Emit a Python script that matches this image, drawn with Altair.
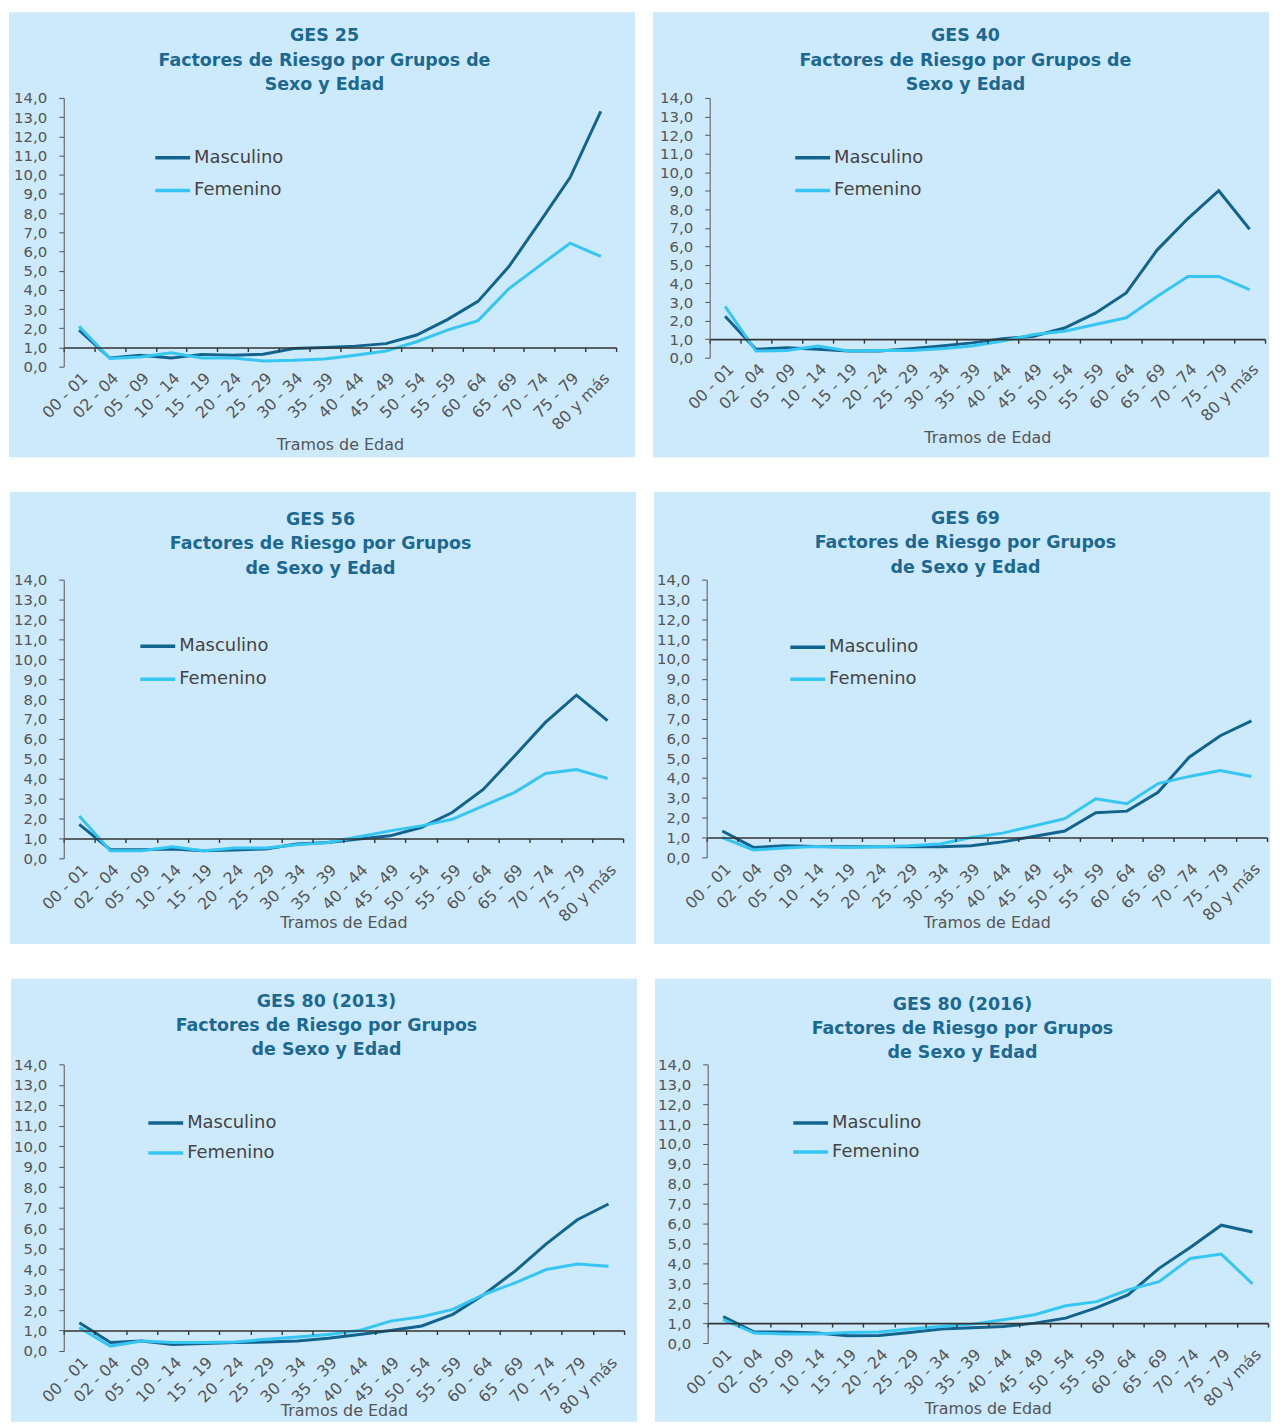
import altair as alt
import pandas as pd

# ---------------- data ----------------
tramos = ["00 - 01", "02 - 04", "05 - 09", "10 - 14", "15 - 19", "20 - 24",
          "25 - 29", "30 - 34", "35 - 39", "40 - 44", "45 - 49", "50 - 54",
          "55 - 59", "60 - 64", "65 - 69", "70 - 74", "75 - 79", "80 y más"]
sexos = ["Masculino", "Femenino"]

titulos = [
    ["GES 25", "Factores de Riesgo por Grupos de", "Sexo y Edad"],
    ["GES 40", "Factores de Riesgo por Grupos de", "Sexo y Edad"],
    ["GES 56", "Factores de Riesgo por Grupos", "de Sexo y Edad"],
    ["GES 69", "Factores de Riesgo por Grupos", "de Sexo y Edad"],
    ["GES 80 (2013)", "Factores de Riesgo por Grupos", "de Sexo y Edad"],
    ["GES 80 (2016)", "Factores de Riesgo por Grupos", "de Sexo y Edad"],
]

ges25_masc = [1.9, 0.45, 0.6, 0.45, 0.64, 0.6, 0.65, 0.95, 1.0, 1.07, 1.2, 1.65, 2.45, 3.4, 5.2, 7.5, 9.85, 13.3]
ges25_fem = [2.1, 0.43, 0.5, 0.72, 0.45, 0.45, 0.3, 0.33, 0.4, 0.6, 0.82, 1.3, 1.9, 2.4, 4.05, 5.25, 6.43, 5.74]

ges40_masc = [2.24, 0.45, 0.54, 0.45, 0.36, 0.36, 0.48, 0.63, 0.8, 1.02, 1.16, 1.6, 2.4, 3.49, 5.8, 7.5, 9.0, 6.92]
ges40_fem = [2.77, 0.36, 0.39, 0.63, 0.36, 0.39, 0.39, 0.48, 0.63, 0.9, 1.25, 1.43, 1.79, 2.15, 3.3, 4.38, 4.38, 3.67]

ges56_masc = [1.71, 0.43, 0.43, 0.47, 0.38, 0.42, 0.47, 0.72, 0.8, 0.97, 1.13, 1.55, 2.3, 3.46, 5.13, 6.83, 8.2, 6.92]
ges56_fem = [2.13, 0.38, 0.38, 0.58, 0.38, 0.52, 0.52, 0.68, 0.8, 1.08, 1.38, 1.63, 1.96, 2.63, 3.3, 4.26, 4.46, 4.01]

ges69_masc = [1.33, 0.5, 0.58, 0.55, 0.53, 0.53, 0.53, 0.53, 0.58, 0.78, 1.05, 1.33, 2.25, 2.33, 3.28, 5.05, 6.13, 6.88]
ges69_fem = [1.0, 0.37, 0.47, 0.55, 0.5, 0.53, 0.58, 0.67, 1.0, 1.22, 1.58, 1.95, 2.95, 2.7, 3.72, 4.08, 4.38, 4.08]

ges80_13_masc = [1.38, 0.41, 0.49, 0.32, 0.36, 0.41, 0.44, 0.49, 0.62, 0.81, 1.0, 1.22, 1.79, 2.76, 3.9, 5.23, 6.41, 7.18]
ges80_13_fem = [1.14, 0.24, 0.49, 0.41, 0.41, 0.44, 0.57, 0.68, 0.81, 1.0, 1.46, 1.67, 2.03, 2.76, 3.33, 3.98, 4.25, 4.14]

ges80_16_masc = [1.33, 0.55, 0.55, 0.5, 0.37, 0.38, 0.53, 0.7, 0.77, 0.83, 1.0, 1.25, 1.78, 2.42, 3.75, 4.8, 5.92, 5.58]
ges80_16_fem = [1.17, 0.5, 0.45, 0.45, 0.53, 0.55, 0.7, 0.83, 0.95, 1.17, 1.42, 1.87, 2.08, 2.67, 3.08, 4.25, 4.47, 2.97]

series = [
    (ges25_masc, ges25_fem),
    (ges40_masc, ges40_fem),
    (ges56_masc, ges56_fem),
    (ges69_masc, ges69_fem),
    (ges80_13_masc, ges80_13_fem),
    (ges80_16_masc, ges80_16_fem),
]

# ---------------- styling / layout ----------------
BG = "#cdeafc"
DARK = "#12648f"
LIGHT = "#36c6f4"
TITLE_COLOR = "#1c6892"
TEXT = "#555555"
FONT = "DejaVu Sans"

layouts = [
    dict(W=555, H=270, L=55, R=19, T=86, B=91, tdx=262, tdy=-62, lx=90, ly=58, rs=32, xt=78),
    dict(W=558, H=261, L=57, R=4, T=86, B=100, tdx=257, tdy=-62, lx=84, ly=58, rs=32, xt=80),
    dict(W=562, H=280, L=54, R=13, T=88, B=86, tdx=258, tdy=-60, lx=75, ly=65, rs=32, xt=65),
    dict(W=563, H=279, L=53, R=3, T=88, B=87, tdx=260, tdy=-61, lx=82, ly=66, rs=31, xt=66),
    dict(W=563, H=288, L=53, R=13, T=86, B=71, tdx=264, tdy=-63, lx=83, ly=57, rs=29, xt=60),
    dict(W=563, H=280, L=53, R=3, T=86, B=79, tdx=256, tdy=-60, lx=84, ly=57, rs=28, xt=66),
]

SYM = 35  # legend line length


def panel(title_lines, masc, fem, lay):
    W, H = lay["W"], lay["H"]
    unit = H / 14.0
    df = pd.DataFrame({
        "Tramo": tramos * 2,
        "Sexo": [sexos[0]] * len(tramos) + [sexos[1]] * len(tramos),
        "Valor": list(masc) + list(fem),
    })
    one = pd.DataFrame({"k": [0]})

    bg = alt.Chart(one).mark_rect(color=BG).encode(
        x=alt.value(-lay["L"]), x2=alt.value(W + lay["R"]),
        y=alt.value(-lay["T"]), y2=alt.value(H + lay["B"]),
    )

    lines = alt.Chart(df).mark_line(strokeWidth=3).encode(
        x=alt.X(
            "Tramo:N", sort=tramos,
            scale=alt.Scale(type="band", paddingInner=0, paddingOuter=0),
            axis=alt.Axis(
                title="Tramos de Edad", offset=-unit, tickBand="extent",
                labelAngle=-45, tickSize=4, labelPadding=unit - 1,
                domainColor="#333333", tickColor="#333333",
                domainWidth=1.6, tickWidth=1.4, zindex=1,
                labelFontSize=16, labelColor=TEXT, labelFont=FONT,
                titleFontSize=16, titleFontWeight="normal", titleColor=TEXT,
                titleFont=FONT, titleY=lay["xt"] + unit, titleBaseline="middle",
            ),
        ),
        y=alt.Y(
            "Valor:Q", scale=alt.Scale(domain=[0, 14]),
            axis=alt.Axis(
                title=None, values=list(range(15)), grid=False, zindex=1,
                labelExpr="replace(format(datum.value, '.1f'), '.', ',')",
                domainColor="#555555", tickColor="#555555", tickSize=5,
                labelPadding=12, labelFontSize=15, labelColor=TEXT, labelFont=FONT,
            ),
        ),
        color=alt.Color(
            "Sexo:N", sort=sexos,
            scale=alt.Scale(domain=sexos, range=[DARK, LIGHT]),
            legend=alt.Legend(
                title=None, orient="none", legendX=lay["lx"],
                legendY=lay["ly"] - SYM / 2, padding=0, zindex=2,
                symbolType="stroke", symbolSize=SYM * SYM, symbolStrokeWidth=3.5,
                labelFontSize=18, labelColor="#444444", labelFont=FONT,
                labelOffset=2, rowPadding=lay["rs"] - 28,
            ),
        ),
    )

    title = alt.Chart(one).mark_text(
        fontSize=17.5, fontWeight="bold", color=TITLE_COLOR, font=FONT,
        lineHeight=24.5, baseline="middle", align="center",
    ).encode(
        x=alt.value(lay["tdx"]), y=alt.value(lay["tdy"]),
        text=alt.value(title_lines),
    )

    return alt.layer(bg, lines, title).properties(width=W, height=H)


panels = [panel(titulos[i], series[i][0], series[i][1], layouts[i]) for i in range(6)]

rows = [
    alt.hconcat(panels[2 * r], panels[2 * r + 1], spacing=16).resolve_legend(color="independent")
    for r in range(3)
]

chart = alt.vconcat(*rows, spacing=33).resolve_legend(color="independent").properties(
    padding=0, background="white"
).configure_view(stroke=None).configure(font=FONT)

chart.save("out.html", embed_options={"renderer": "svg", "actions": False})
